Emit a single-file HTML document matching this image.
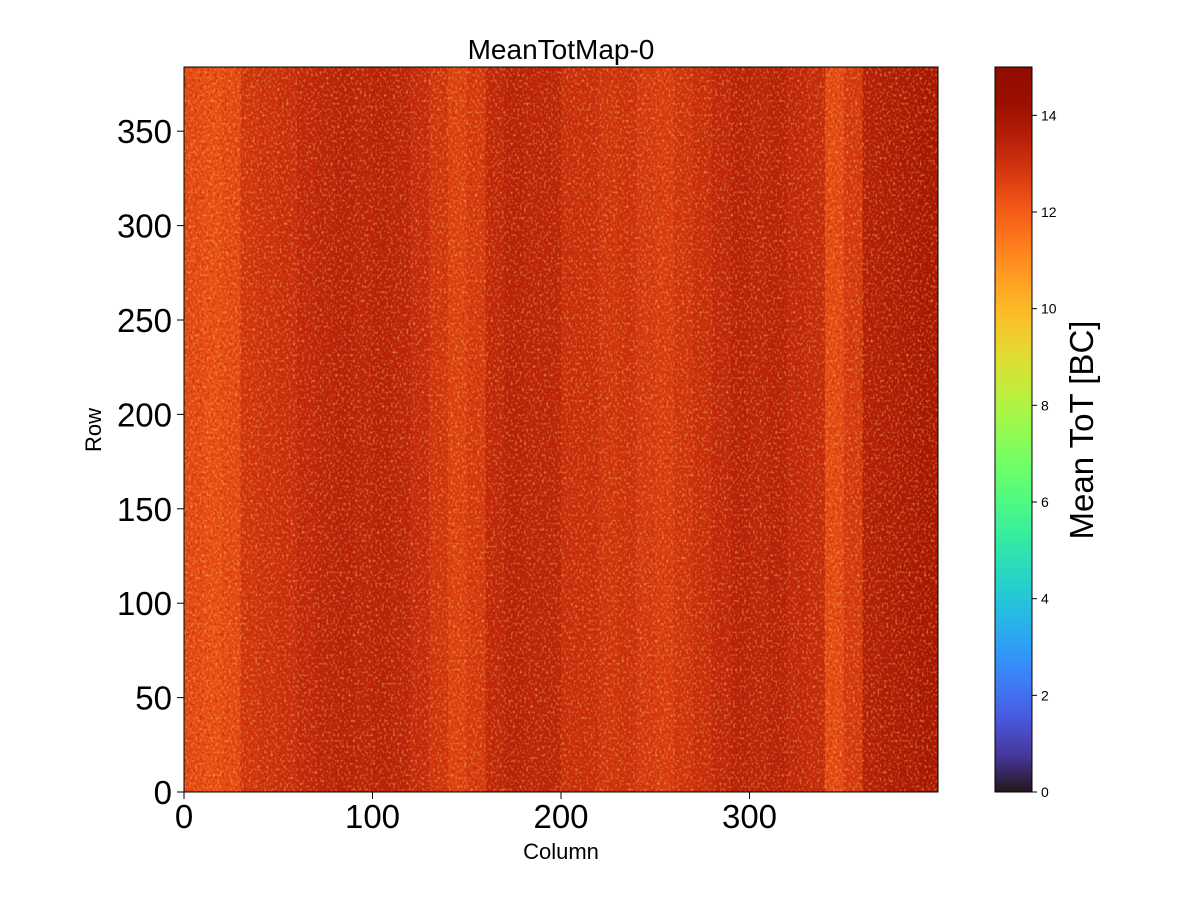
<!DOCTYPE html>
<html><head><meta charset="utf-8">
<style>
body{margin:0;background:#fff;}
svg{display:block;font-family:"Liberation Sans","DejaVu Sans",sans-serif;}
</style></head>
<body>
<svg id="chart" width="1200" height="900" viewBox="0 0 1200 900">
<defs>
<linearGradient id="cbgrad" x1="0" y1="1" x2="0" y2="0"></linearGradient>
<filter id="noise" x="0" y="0" width="100%" height="100%">
  <feTurbulence type="fractalNoise" baseFrequency="0.45 0.35" numOctaves="1" seed="7" result="t"/>
  <feColorMatrix in="t" type="matrix" values="0 0 0 0 1  0 0 0 0 0.75  0 0 0 0 0.2  3 0 0 0 -1.5"/>
</filter>
<filter id="noise2" x="0" y="0" width="100%" height="100%">
  <feTurbulence type="fractalNoise" baseFrequency="0.4 0.3" numOctaves="1" seed="21" result="t"/>
  <feColorMatrix in="t" type="matrix" values="0 0 0 0 0.45  0 0 0 0 0.02  0 0 0 0 0.0  3 0 0 0 -1.4"/>
</filter>
</defs>
<text x="561" y="59" font-size="28" text-anchor="middle">MeanTotMap-0</text>
<g id="heat"></g>
<rect x="184" y="67" width="754" height="725" filter="url(#noise2)" opacity="0.6"/>
<rect x="184" y="67" width="754" height="725" filter="url(#noise)" opacity="0.5"/>
<rect x="184" y="67" width="754" height="725" fill="none" stroke="#000" stroke-width="1"/>
<g id="xticks"></g>
<g id="yticks"></g>
<text x="561" y="859" font-size="22" text-anchor="middle">Column</text>
<text transform="translate(101,430) rotate(-90)" font-size="22" text-anchor="middle">Row</text>
<rect x="995" y="67" width="37" height="725" fill="url(#cbgrad)" stroke="#000" stroke-width="1"/>
<g id="cbticks"></g>
<text transform="translate(1093,430) rotate(-90)" font-size="33" text-anchor="middle">Mean ToT [BC]</text>
</svg>
<script>
// Per-10-column band means (columns 0..399)
const bandMeans = [12.4,12.3,12.4,12.9,13.0,13.1,13.3,13.4,13.5,13.4,
                   13.5,13.4,13.2,12.9,12.6,12.8,13.3,13.5,13.4,13.4,
                   13.1,13.1,12.9,13.0,12.8,12.7,12.9,13.1,13.3,13.5,
                   13.4,13.5,13.3,13.2,12.4,12.8,13.6,13.7,13.8,13.9];
const bandWidth = 10;
const xTicks = [0,100,200,300];
const yTicks = [0,50,100,150,200,250,300,350];
const cbTicks = [0,2,4,6,8,10,12,14];
const colMax = 400, rowMax = 384, vMax = 15;

const NS="http://www.w3.org/2000/svg";
const px0=184, px1=938, py0=792, py1=67;
const xs = c => px0 + c*(px1-px0)/colMax;
const ys = r => py0 - r*(py0-py1)/rowMax;
const cs = v => 792 - v*725/vMax;

function turbo(t){
  t=Math.max(0,Math.min(1,t));
  const r=0.13572138+t*(4.61539260+t*(-42.66032258+t*(132.13108234+t*(-152.94239396+t*59.28637943))));
  const g=0.09140261+t*(2.19418839+t*(4.84296658+t*(-14.18503333+t*(4.27729857+t*2.82956604))));
  const b=0.10667330+t*(12.64194608+t*(-60.58204836+t*(110.36276771+t*(-89.90310912+t*27.34824973))));
  const f=x=>Math.round(255*Math.max(0,Math.min(1,x)));
  return `rgb(${f(r)},${f(g)},${f(b)})`;
}

const heat=document.getElementById('heat');
bandMeans.forEach((v,i)=>{
  const r=document.createElementNS(NS,'rect');
  r.setAttribute('x',xs(i*bandWidth));
  r.setAttribute('y',ys(rowMax));
  r.setAttribute('width',xs((i+1)*bandWidth)-xs(i*bandWidth)+0.5);
  r.setAttribute('height',ys(0)-ys(rowMax));
  r.setAttribute('fill',turbo(v/vMax));
  
  
  heat.appendChild(r);
});

const xg=document.getElementById('xticks');
xTicks.forEach(t=>{
  const x=xs(t);
  const l=document.createElementNS(NS,'line');
  l.setAttribute('x1',x);l.setAttribute('x2',x);l.setAttribute('y1',792);l.setAttribute('y2',799);
  l.setAttribute('stroke','#000');
  
  
  xg.appendChild(l);
  const tx=document.createElementNS(NS,'text');
  tx.setAttribute('x',x);tx.setAttribute('y',828);tx.setAttribute('font-size','33');tx.setAttribute('text-anchor','middle');
  tx.textContent=t;
  
  
  xg.appendChild(tx);
});
const yg=document.getElementById('yticks');
yTicks.forEach(t=>{
  const y=ys(t);
  const l=document.createElementNS(NS,'line');
  l.setAttribute('x1',177);l.setAttribute('x2',184);l.setAttribute('y1',y);l.setAttribute('y2',y);
  l.setAttribute('stroke','#000');
  
  
  yg.appendChild(l);
  const tx=document.createElementNS(NS,'text');
  tx.setAttribute('x',172);tx.setAttribute('y',y+12);tx.setAttribute('font-size','33');tx.setAttribute('text-anchor','end');
  tx.textContent=t;
  
  
  yg.appendChild(tx);
});

const grad=document.getElementById('cbgrad');
for(let i=0;i<=20;i++){
  const s=document.createElementNS(NS,'stop');
  s.setAttribute('offset',(i/20));
  s.setAttribute('stop-color',turbo(i/20));
  grad.appendChild(s);
}
const cg=document.getElementById('cbticks');
cbTicks.forEach(t=>{
  const y=cs(t);
  const l=document.createElementNS(NS,'line');
  l.setAttribute('x1',1032);l.setAttribute('x2',1037);l.setAttribute('y1',y);l.setAttribute('y2',y);
  l.setAttribute('stroke','#000');
  
  
  cg.appendChild(l);
  const tx=document.createElementNS(NS,'text');
  tx.setAttribute('x',1041);tx.setAttribute('y',y+5);tx.setAttribute('font-size','14');
  tx.textContent=t;
  
  
  cg.appendChild(tx);
});
</script>
</body></html>
